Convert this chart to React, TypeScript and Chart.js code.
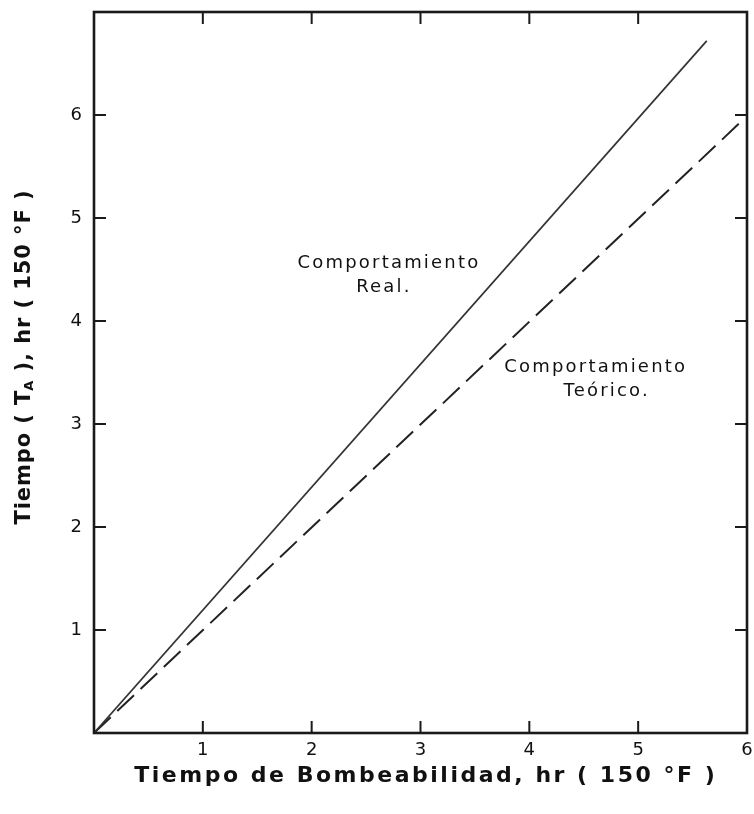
import React, { useEffect, useRef } from "react";
import { Chart, registerables } from "chart.js";

Chart.register(...registerables);

// Data
const realX = [0, 5.63];
const realY = [0, 6.72];
const teoX = [0, 5.93];
const teoY = [0, 5.92];
const xTickValues = [1, 2, 3, 4, 5, 6];
const yTickValues = [1, 2, 3, 4, 5, 6];
const xTitle = "Tiempo de Bombeabilidad, hr ( 150 °F )";
const yTitleParts = ["Tiempo ( T", "A", " ), hr ( 150 °F )"];
const realLabel = ["Comportamiento", "Real."];
const teoLabel = ["Comportamiento", "Teórico."];
const realLabelPos = { x: 2.7, y: 4.56 };
const teoLabelPos = { x: 4.6, y: 3.55 };

const FONT = '"DejaVu Sans", sans-serif';

function fitSpacing(ctx: CanvasRenderingContext2D, text: string, target: number) {
  ctx.letterSpacing = "0px";
  const w = ctx.measureText(text).width;
  const n = Math.max(1, text.length);
  return Math.max(0, (target - w) / n);
}

const decorPlugin = {
  id: "decor",
  afterDraw(chart: any) {
    const { ctx, chartArea: a, scales } = chart;
    const xs = scales.x;
    const ys = scales.y;
    ctx.save();
    // frame
    ctx.strokeStyle = "#1a1a1a";
    ctx.lineWidth = 2.6;
    ctx.strokeRect(a.left, a.top, a.right - a.left, a.bottom - a.top);
    // inward ticks
    ctx.lineWidth = 2;
    const L = 12;
    ctx.beginPath();
    xTickValues.forEach((v) => {
      const px = xs.getPixelForValue(v);
      ctx.moveTo(px, a.bottom);
      ctx.lineTo(px, a.bottom - L);
      ctx.moveTo(px, a.top);
      ctx.lineTo(px, a.top + L);
    });
    yTickValues.forEach((v) => {
      const py = ys.getPixelForValue(v);
      ctx.moveTo(a.left, py);
      ctx.lineTo(a.left + L, py);
      ctx.moveTo(a.right, py);
      ctx.lineTo(a.right - L, py);
    });
    ctx.stroke();

    ctx.fillStyle = "#111";
    // x title
    ctx.font = `bold 22px ${FONT}`;
    const lsx = fitSpacing(ctx, xTitle, 583);
    ctx.letterSpacing = lsx + "px";
    ctx.textAlign = "center";
    ctx.textBaseline = "middle";
    ctx.fillText(xTitle, (a.left + a.right) / 2 + 4 + lsx / 2, 776);

    // y title (rotated, with subscript)
    ctx.save();
    ctx.translate(25, 357);
    ctx.rotate(-Math.PI / 2);
    ctx.textAlign = "left";
    ctx.textBaseline = "middle";
    const big = `bold 21px ${FONT}`;
    const small = `bold 13px ${FONT}`;
    ctx.font = big;
    ctx.letterSpacing = "0px";
    const w0 = ctx.measureText(yTitleParts[0]).width;
    const w2 = ctx.measureText(yTitleParts[2]).width;
    ctx.font = small;
    const w1 = ctx.measureText(yTitleParts[1]).width;
    const chars = yTitleParts[0].length + yTitleParts[2].length;
    const target = 335;
    const ls = Math.max(0, (target - (w0 + w1 + w2)) / chars);
    let x = -target / 2;
    ctx.font = big;
    ctx.letterSpacing = ls + "px";
    ctx.fillText(yTitleParts[0], x, 0);
    x += w0 + ls * yTitleParts[0].length;
    ctx.font = small;
    ctx.letterSpacing = "0px";
    ctx.fillText(yTitleParts[1], x - 1, 5);
    x += w1;
    ctx.font = big;
    ctx.letterSpacing = ls + "px";
    ctx.fillText(yTitleParts[2], x, 0);
    ctx.restore();

    // annotations
    ctx.font = `18px ${FONT}`;
    ctx.textAlign = "center";
    ctx.textBaseline = "middle";
    const drawLabel = (lines: string[], pos: { x: number; y: number }, dx2: number) => {
      const cx = xs.getPixelForValue(pos.x);
      const cy = ys.getPixelForValue(pos.y);
      const ls2 = fitSpacing(ctx, lines[0], 183);
      ctx.letterSpacing = ls2 + "px";
      ctx.fillText(lines[0], cx + ls2 / 2, cy);
      ctx.fillText(lines[1], cx + ls2 / 2 + dx2, cy + 24);
    };
    drawLabel(realLabel, realLabelPos, -5);
    drawLabel(teoLabel, teoLabelPos, 11);
    ctx.restore();
  },
};

export default function App() {
  const ref = useRef<HTMLCanvasElement | null>(null);
  useEffect(() => {
    if (!ref.current) return;
    const chart = new Chart(ref.current, {
      type: "scatter",
      data: {
        datasets: [
          {
            label: "Comportamiento Real.",
            data: realX.map((x, i) => ({ x, y: realY[i] })),
            showLine: true,
            borderColor: "#333",
            borderWidth: 1.7,
            pointRadius: 0,
          },
          {
            label: "Comportamiento Teórico.",
            data: teoX.map((x, i) => ({ x, y: teoY[i] })),
            showLine: true,
            borderColor: "#222",
            borderWidth: 2,
            borderDash: [23, 9],
            pointRadius: 0,
          },
        ],
      },
      options: {
        animation: false,
        responsive: false,
        layout: { padding: { top: 12, right: 7, left: 0, bottom: 0 } },
        plugins: {
          legend: { display: false },
          tooltip: { enabled: false },
          title: { display: false },
        },
        scales: {
          x: {
            type: "linear",
            min: 0,
            max: 6,
            grid: { display: false, drawTicks: false },
            border: { display: false },
            afterBuildTicks: (s: any) => {
              s.ticks = xTickValues.map((v) => ({ value: v }));
            },
            afterFit: (s: any) => {
              s.height = 81;
              s.paddingLeft = 0;
              s.paddingRight = 0;
            },
            ticks: {
              padding: 7,
              color: "#111",
              font: { family: FONT, size: 18 },
              maxRotation: 0,
            },
          },
          y: {
            type: "linear",
            min: 0,
            max: 7,
            grid: { display: false, drawTicks: false },
            border: { display: false },
            afterBuildTicks: (s: any) => {
              s.ticks = yTickValues.map((v) => ({ value: v }));
            },
            afterFit: (s: any) => {
              s.width = 94;
              s.paddingTop = 0;
              s.paddingBottom = 0;
            },
            ticks: {
              padding: 12,
              color: "#111",
              font: { family: FONT, size: 18 },
            },
          },
        },
      },
      plugins: [decorPlugin],
    });
    return () => chart.destroy();
  }, []);
  return (
    <div style={{ position: "absolute", left: 0, top: 0, width: 754, height: 814, background: "#fff" }}>
      <canvas ref={ref} width={754} height={814} />
    </div>
  );
}
